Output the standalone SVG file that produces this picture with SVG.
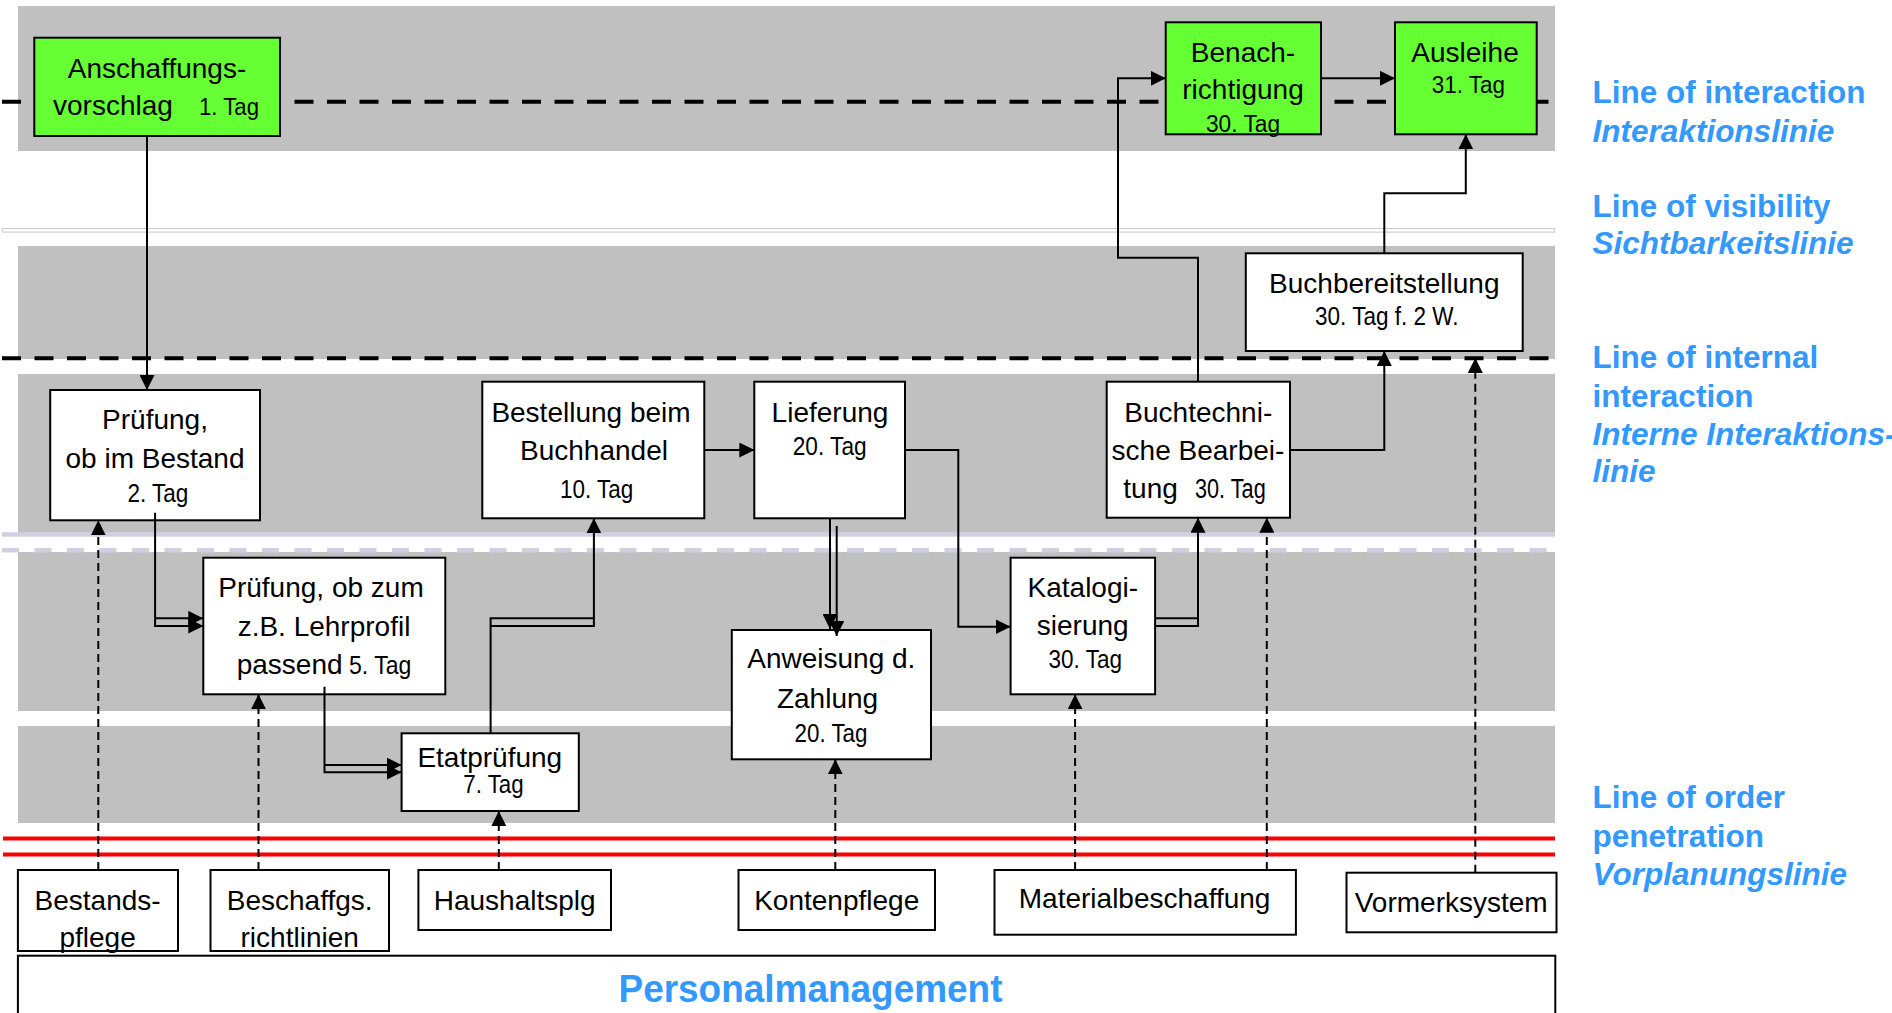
<svg xmlns="http://www.w3.org/2000/svg" width="1892" height="1013" viewBox="0 0 1892 1013">
<style>
.band{fill:#C0C0C0}
.box{fill:#FFFFFF;stroke:#000;stroke-width:2}
.green{fill:#66FF33;stroke:#000;stroke-width:2}
.t{font-family:"Liberation Sans",Arial,sans-serif;font-size:28px;fill:#000;text-anchor:middle}
.s{text-anchor:start}
.tag{font-family:"Liberation Sans",Arial,sans-serif;font-size:26px;fill:#000}
.tg{font-size:23px}
.lbl{font-family:"Liberation Sans",Arial,sans-serif;font-weight:bold;font-size:31.5px;fill:#3399FF}
.pm{font-size:38px;text-anchor:middle}
.it{font-style:italic}
.c{fill:none;stroke:#000;stroke-width:2;marker-end:url(#ah)}
.cn{fill:none;stroke:#000;stroke-width:2}
.d{fill:none;stroke:#000;stroke-width:2;stroke-dasharray:8 5;marker-end:url(#ah)}
.bl{fill:none;stroke:#000;stroke-width:4;stroke-dasharray:19 13.5}
.red{fill:none;stroke:#FF0000;stroke-width:4}
.lav{fill:none;stroke:#D0D0E4;stroke-width:4.5}
</style>
<defs>
<marker id="ah" markerUnits="userSpaceOnUse" markerWidth="15" markerHeight="15" refX="15" refY="7.5" orient="auto">
<path d="M0,0 L15,7.5 L0,15 z" fill="#000"/>
</marker>
</defs>
<rect width="1892" height="1013" fill="#FFFFFF"/>
<g id="bands">
<rect class="band" x="18" y="6" width="1537" height="145"/>
<rect class="band" x="18" y="246" width="1537" height="113"/>
<rect class="band" x="18" y="374" width="1537" height="160"/>
<rect class="band" x="18" y="552" width="1537" height="159"/>
<rect class="band" x="18" y="726" width="1537" height="97"/>
</g>
<g id="lines">
<line class="bl" x1="2" y1="101.7" x2="1555" y2="101.7"/>
<rect x="2.4" y="228.5" width="1552.4" height="3.6" fill="#FFFFFF" stroke="#C8C8C8" stroke-width="1"/>
<line class="bl" x1="2" y1="358.3" x2="1555" y2="358.3"/>
<line class="lav" x1="2" y1="534.5" x2="1555" y2="534.5"/>
<line class="lav" x1="2" y1="550.3" x2="1555" y2="550.3" stroke-dasharray="17 15.5"/>
<line class="red" x1="3" y1="838.5" x2="1555" y2="838.5"/>
<line class="red" x1="3" y1="854.5" x2="1555" y2="854.5"/>
</g>
<g id="n-anschaffung">
<rect class="green" x="34.3" y="37.7" width="245.7" height="98.3"/>
<text class="t" x="157" y="78.3">Anschaffungs-</text>
<text class="t s" x="53" y="115">vorschlag</text>
<text class="tag tg" x="199" y="115" textLength="60" lengthAdjust="spacingAndGlyphs">1. Tag</text>
</g>
<g id="n-benach">
<rect class="green" x="1165.7" y="22.3" width="155.3" height="112"/>
<text class="t" x="1243" y="61.7">Benach-</text>
<text class="t" x="1243" y="99.3">richtigung</text>
<text class="tag tg" x="1243" y="131.7" text-anchor="middle" textLength="74" lengthAdjust="spacingAndGlyphs">30. Tag</text>
</g>
<g id="n-ausleihe">
<rect class="green" x="1395" y="22.3" width="141.7" height="112"/>
<text class="t" x="1465" y="61.7">Ausleihe</text>
<text class="tag tg" x="1468.3" y="93.3" text-anchor="middle" textLength="73.3" lengthAdjust="spacingAndGlyphs">31. Tag</text>
</g>
<g id="n-buchbereit">
<rect class="box" x="1245.8" y="253.3" width="276.9" height="97.7"/>
<text class="t" x="1384.3" y="292.7">Buchbereitstellung</text>
<text class="tag" x="1386.8" y="325" text-anchor="middle" textLength="143.5" lengthAdjust="spacingAndGlyphs">30. Tag f. 2 W.</text>
</g>
<g id="n-pruefung1">
<rect class="box" x="50.2" y="390" width="209.8" height="130.3"/>
<text class="t" x="155" y="429.3">Prüfung,</text>
<text class="t" x="155" y="468.3">ob im Bestand</text>
<text class="tag" x="157.9" y="501.7" text-anchor="middle" textLength="61" lengthAdjust="spacingAndGlyphs">2. Tag</text>
</g>
<g id="n-bestellung">
<rect class="box" x="482.3" y="381.7" width="222" height="136.6"/>
<text class="t" x="591" y="421.7">Bestellung beim</text>
<text class="t" x="594" y="460">Buchhandel</text>
<text class="tag" x="596.7" y="498.3" text-anchor="middle" textLength="73.3" lengthAdjust="spacingAndGlyphs">10. Tag</text>
</g>
<g id="n-lieferung">
<rect class="box" x="754.3" y="381.7" width="150.7" height="136.6"/>
<text class="t" x="830" y="421.7">Lieferung</text>
<text class="tag" x="829.7" y="455" text-anchor="middle" textLength="74" lengthAdjust="spacingAndGlyphs">20. Tag</text>
</g>
<g id="n-buchtech">
<rect class="box" x="1106.7" y="381.7" width="183.3" height="136"/>
<text class="t" x="1198.3" y="421.7">Buchtechni-</text>
<text class="t" x="1198" y="460">sche Bearbei-</text>
<text class="t s" x="1123.3" y="498.3">tung</text>
<text class="tag" x="1195" y="498.3" style="font-size:27px" textLength="70.7" lengthAdjust="spacingAndGlyphs">30. Tag</text>
</g>
<g id="n-pruefung2">
<rect class="box" x="203.3" y="557.7" width="242" height="136.6"/>
<text class="t" x="321" y="597.3">Prüfung, ob zum</text>
<text class="t" x="324" y="636">z.B. Lehrprofil</text>
<text class="t s" x="236.7" y="674.3">passend</text>
<text class="tag" x="349" y="674.3" textLength="62.4" lengthAdjust="spacingAndGlyphs">5. Tag</text>
</g>
<g id="n-katalog">
<rect class="box" x="1010.6" y="557.7" width="144.5" height="136.6"/>
<text class="t" x="1082.8" y="596.7">Katalogi-</text>
<text class="t" x="1082.7" y="635">sierung</text>
<text class="tag" x="1085.3" y="668.3" text-anchor="middle" textLength="73.4" lengthAdjust="spacingAndGlyphs">30. Tag</text>
</g>
<g id="n-anweisung">
<rect class="box" x="731.8" y="630" width="199.2" height="129.3"/>
<text class="t" x="831.3" y="668.3">Anweisung d.</text>
<text class="t" x="827.5" y="708.3">Zahlung</text>
<text class="tag" x="831" y="741.7" text-anchor="middle" textLength="73" lengthAdjust="spacingAndGlyphs">20. Tag</text>
</g>
<g id="n-etat">
<rect class="box" x="401.6" y="733.3" width="177.2" height="77.7"/>
<text class="t" x="489.8" y="766.7">Etatprüfung</text>
<text class="tag" x="493.5" y="793.3" text-anchor="middle" textLength="60.4" lengthAdjust="spacingAndGlyphs">7. Tag</text>
</g>
<g id="n-bestandspflege">
<rect class="box" x="17.9" y="870" width="160.1" height="81"/>
<text class="t" x="97.6" y="910">Bestands-</text>
<text class="t" x="97.6" y="946.7">pflege</text>
</g>
<g id="n-beschaffgs">
<rect class="box" x="210.5" y="870" width="178.5" height="81"/>
<text class="t" x="299.7" y="910">Beschaffgs.</text>
<text class="t" x="299.7" y="946.7">richtlinien</text>
</g>
<g id="n-haushalt">
<rect class="box" x="418.4" y="870" width="192.6" height="60"/>
<text class="t" x="514.7" y="910">Haushaltsplg</text>
</g>
<g id="n-konten">
<rect class="box" x="738.5" y="870" width="196.5" height="60"/>
<text class="t" x="836.7" y="910">Kontenpflege</text>
</g>
<g id="n-material">
<rect class="box" x="994.5" y="870" width="301.4" height="64.7"/>
<text class="t" x="1144.6" y="908.3">Materialbeschaffung</text>
</g>
<g id="n-vormerk">
<rect class="box" x="1346.5" y="872.7" width="210" height="59.6"/>
<text class="t" x="1451.2" y="911.7">Vormerksystem</text>
</g>
<g id="n-personal">
<rect class="box" x="17.9" y="955.7" width="1537.4" height="70"/>
<text class="lbl pm" x="810.5" y="1001.7" textLength="384" lengthAdjust="spacingAndGlyphs">Personalmanagement</text>
</g>
<g id="connectors">
<path class="c" d="M147,136 V390"/>
<path class="c" d="M155.1,512.7 V626 H203.3"/>
<path class="c" d="M155.1,618.3 H203.3"/>
<path class="c" d="M324.5,686.7 V772.3 H401.6"/>
<path class="c" d="M324.5,765 H401.6"/>
<path class="c" d="M490.6,626 H593.9 V518.3"/>
<path class="cn" d="M490.6,733.3 V618.3 H593.9"/>
<path class="c" d="M704.3,450 H754.3"/>
<path class="c" d="M905,450 H958.3 V626.7 H1010.6"/>
<path class="c" d="M830,518.3 V629"/>
<path class="c" d="M836.7,526 V636"/>
<path class="c" d="M1155.1,626 H1198 V517.7"/>
<path class="cn" d="M1155.1,618.3 H1198"/>
<path class="c" d="M1198,381.7 V257.7 H1118 V78.3 H1165.7"/>
<path class="c" d="M1290,450 H1384.3 V351"/>
<path class="c" d="M1384.3,253.3 V193.3 H1465.8 V134.3"/>
<path class="c" d="M1321,78.3 H1395"/>
<path class="d" d="M98.3,870 V520.3"/>
<path class="d" d="M258.5,870 V694.3"/>
<path class="d" d="M498.8,870 V811"/>
<path class="d" d="M835.3,870 V759.3"/>
<path class="d" d="M1075.1,870 V694.3"/>
<path class="d" d="M1266.8,870 V517.7"/>
<path class="d" d="M1475.3,872.7 V358"/>
</g>
<g id="labels">
<text class="lbl" x="1592.6" y="103.3">Line of interaction</text>
<text class="lbl it" x="1592.6" y="141.7">Interaktionslinie</text>
<text class="lbl" x="1592.6" y="216.7">Line of visibility</text>
<text class="lbl it" x="1592.6" y="254">Sichtbarkeitslinie</text>
<text class="lbl" x="1592.6" y="368.3">Line of internal</text>
<text class="lbl" x="1592.6" y="406.7">interaction</text>
<text class="lbl it" x="1592.6" y="445">Interne Interaktions-</text>
<text class="lbl it" x="1592.6" y="481.7">linie</text>
<text class="lbl" x="1592.6" y="808.3">Line of order</text>
<text class="lbl" x="1592.6" y="846.7">penetration</text>
<text class="lbl it" x="1592.6" y="885">Vorplanungslinie</text>
</g>
</svg>
